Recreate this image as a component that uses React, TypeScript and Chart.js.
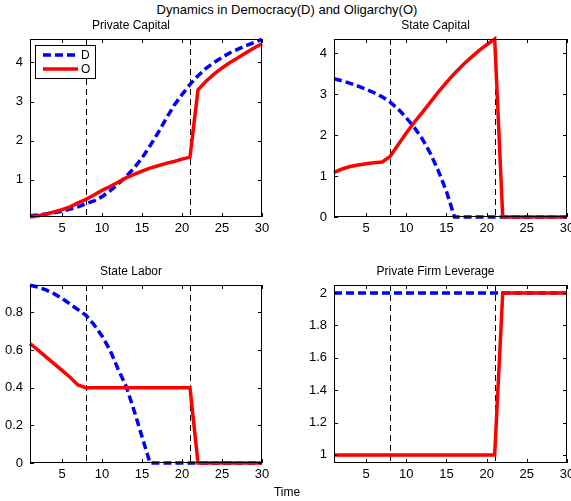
import React, { useEffect, useRef } from 'react';
import { Chart, registerables } from 'chart.js';

Chart.register(...registerables);

const FONT = '"Liberation Sans", Arial, Helvetica, sans-serif';
Chart.defaults.font.family = FONT;

// ---------- data ----------
const timeSteps = [1, 2, 3, 4, 5, 6, 7, 8, 9, 10, 11, 12, 13, 14, 15, 16, 17, 18, 19, 20, 21, 22, 23, 24, 25, 26, 27, 28, 29, 30];
const xTicks = [5, 10, 15, 20, 25, 30];
const regimeChanges = [8, 21];
const seriesLabels = ['D', 'O'];

const mainTitle = 'Dynamics in Democracy(D) and Oligarchy(O)';
const xAxisLabel = 'Time';

const privateCapitalD = [0.08, 0.10, 0.13, 0.16, 0.20, 0.25, 0.31, 0.39, 0.46, 0.57, 0.72, 0.89, 1.08, 1.30, 1.56, 1.87, 2.20, 2.56, 2.90, 3.18, 3.44, 3.66, 3.85, 4.00, 4.13, 4.25, 4.34, 4.43, 4.51, 4.59];
const privateCapitalO = [0.05, 0.08, 0.12, 0.18, 0.24, 0.31, 0.41, 0.50, 0.61, 0.73, 0.83, 0.94, 1.05, 1.14, 1.22, 1.30, 1.36, 1.42, 1.47, 1.53, 1.58, 3.30, 3.52, 3.70, 3.86, 4.00, 4.12, 4.25, 4.37, 4.48];

const stateCapitalD = [3.37, 3.32, 3.26, 3.19, 3.11, 3.03, 2.93, 2.80, 2.63, 2.42, 2.18, 1.90, 1.55, 1.12, 0.62, 0, 0, 0, 0, 0, 0, 0, 0, 0, 0, 0, 0, 0, 0, 0];
const stateCapitalO = [1.09, 1.17, 1.23, 1.27, 1.30, 1.32, 1.34, 1.48, 1.77, 2.05, 2.31, 2.55, 2.80, 3.05, 3.28, 3.50, 3.70, 3.88, 4.05, 4.20, 4.34, 0, 0, 0, 0, 0, 0, 0, 0, 0];

const stateLaborD = [0.945, 0.935, 0.92, 0.90, 0.875, 0.845, 0.815, 0.785, 0.735, 0.675, 0.60, 0.50, 0.41, 0.28, 0.14, 0, 0, 0, 0, 0, 0, 0, 0, 0, 0, 0, 0, 0, 0, 0];
const stateLaborO = [0.635, 0.60, 0.564, 0.528, 0.492, 0.456, 0.415, 0.40, 0.40, 0.40, 0.40, 0.40, 0.40, 0.40, 0.40, 0.40, 0.40, 0.40, 0.40, 0.40, 0.40, 0, 0, 0, 0, 0, 0, 0, 0, 0];

const leverageD = [2, 2, 2, 2, 2, 2, 2, 2, 2, 2, 2, 2, 2, 2, 2, 2, 2, 2, 2, 2, 2, 2, 2, 2, 2, 2, 2, 2, 2, 2];
const leverageO = [1, 1, 1, 1, 1, 1, 1, 1, 1, 1, 1, 1, 1, 1, 1, 1, 1, 1, 1, 1, 1, 2, 2, 2, 2, 2, 2, 2, 2, 2];

const privateCapitalTicks = [1, 2, 3, 4];
const stateCapitalTicks = [0, 1, 2, 3, 4];
const stateLaborTicks = [0, 0.2, 0.4, 0.6, 0.8];
const leverageTicks = [1, 1.2, 1.4, 1.6, 1.8, 2];

// ---------- plugins ----------
const axesBoxPlugin = {
  id: 'axesBox',
  beforeDatasetsDraw(chart: any) {
    const { ctx, chartArea, scales } = chart;
    const { top, bottom } = chartArea;
    ctx.save();
    ctx.strokeStyle = '#000';
    ctx.lineWidth = 1;
    ctx.setLineDash([6, 4]);
    regimeChanges.forEach((v) => {
      const px = Math.round(scales.x.getPixelForValue(v)) + 0.5;
      ctx.beginPath();
      ctx.moveTo(px, top);
      ctx.lineTo(px, bottom);
      ctx.stroke();
    });
    ctx.restore();
  },
  afterDatasetsDraw(chart: any) {
    const { ctx, chartArea, scales } = chart;
    const { left, right, top, bottom } = chartArea;
    const tl = 4;
    ctx.save();
    ctx.strokeStyle = '#000';
    ctx.lineWidth = 1;
    ctx.setLineDash([]);
    ctx.strokeRect(left + 0.5, top + 0.5, right - left - 1, bottom - top - 1);
    ctx.beginPath();
    scales.x.ticks.forEach((t: any) => {
      const px = Math.round(scales.x.getPixelForValue(t.value)) + 0.5;
      ctx.moveTo(px, bottom);
      ctx.lineTo(px, bottom - tl);
      ctx.moveTo(px, top);
      ctx.lineTo(px, top + tl);
    });
    scales.y.ticks.forEach((t: any) => {
      const py = Math.round(scales.y.getPixelForValue(t.value)) + 0.5;
      ctx.moveTo(left, py);
      ctx.lineTo(left + tl, py);
      ctx.moveTo(right, py);
      ctx.lineTo(right - tl, py);
    });
    ctx.stroke();
    ctx.restore();
  },
};

const insideLegendPlugin = {
  id: 'insideLegend',
  afterDraw(chart: any) {
    const { ctx, chartArea } = chart;
    const x0 = chartArea.left + 5;
    const y0 = chartArea.top + 6;
    const w = 61;
    const h = 34;
    ctx.save();
    ctx.fillStyle = '#fff';
    ctx.fillRect(x0, y0, w, h);
    ctx.strokeStyle = '#000';
    ctx.lineWidth = 1;
    ctx.setLineDash([]);
    ctx.strokeRect(x0 + 0.5, y0 + 0.5, w - 1, h - 1);
    chart.data.datasets.forEach((ds: any, i: number) => {
      const cy = y0 + 10 + i * 14;
      ctx.strokeStyle = ds.borderColor;
      ctx.lineWidth = ds.borderWidth;
      ctx.setLineDash(ds.borderDash || []);
      ctx.beginPath();
      ctx.moveTo(x0 + 8, cy);
      ctx.lineTo(x0 + 43, cy);
      ctx.stroke();
      ctx.setLineDash([]);
      ctx.fillStyle = '#000';
      ctx.font = `12px ${FONT}`;
      ctx.textBaseline = 'middle';
      ctx.textAlign = 'left';
      ctx.fillText(ds.label, x0 + 46, cy + 0.5);
    });
    ctx.restore();
  },
};

const formatTick = (v: number | string) => String(Number(Number(v).toFixed(2)));

// ---------- panel ----------
type PanelProps = {
  title: string;
  d: number[];
  o: number[];
  yTicks: number[];
  yMin: number;
  yMax: number;
  legend?: boolean;
  left: number;
  top: number;
  width: number;
  height: number;
  rightPad: number;
};

function Panel(p: PanelProps) {
  const ref = useRef<HTMLCanvasElement>(null);
  useEffect(() => {
    const chart = new Chart(ref.current as HTMLCanvasElement, {
      type: 'line',
      data: {
        datasets: [
          {
            label: seriesLabels[0],
            data: timeSteps.map((t, i) => ({ x: t, y: p.d[i] })),
            borderColor: '#0000ff',
            borderWidth: 3.5,
            borderDash: [8, 4],
            pointRadius: 0,
            tension: 0,
            fill: false,
            order: 1,
            clip: false as any,
          },
          {
            label: seriesLabels[1],
            data: timeSteps.map((t, i) => ({ x: t, y: p.o[i] })),
            borderColor: '#ff0000',
            borderWidth: 3.5,
            pointRadius: 0,
            tension: 0,
            fill: false,
            order: 0,
            clip: false as any,
          },
        ],
      },
      options: {
        animation: false,
        responsive: false,
        maintainAspectRatio: false,
        events: [],
        layout: { padding: { left: 0, top: 0, right: p.rightPad, bottom: 0 } },
        plugins: {
          legend: { display: false },
          tooltip: { enabled: false },
          title: {
            display: true,
            text: p.title,
            color: '#000',
            font: { size: 12, weight: 'normal', lineHeight: '14px' as any },
            padding: { top: 0, bottom: 6 },
          },
        },
        scales: {
          x: {
            type: 'linear',
            min: 1,
            max: 30,
            afterBuildTicks: (s: any) => {
              s.ticks = xTicks.map((v) => ({ value: v }));
            },
            afterFit: (s: any) => {
              s.height = 24;
              s.paddingLeft = 0;
              s.paddingRight = 0;
            },
            grid: { display: false, drawTicks: false },
            border: { display: false },
            ticks: { color: '#000', font: { size: 13 }, padding: 4, maxRotation: 0, autoSkip: false, callback: formatTick },
          },
          y: {
            type: 'linear',
            min: p.yMin,
            max: p.yMax,
            afterBuildTicks: (s: any) => {
              s.ticks = p.yTicks.map((v) => ({ value: v }));
            },
            afterFit: (s: any) => {
              s.width = 30;
              s.paddingTop = 0;
              s.paddingBottom = 0;
            },
            grid: { display: false, drawTicks: false },
            border: { display: false },
            ticks: { color: '#000', font: { size: 13 }, padding: 7, autoSkip: false, callback: formatTick },
          },
        },
      } as any,
      plugins: p.legend ? [axesBoxPlugin, insideLegendPlugin] : [axesBoxPlugin],
    });
    return () => chart.destroy();
  }, []);
  return (
    <canvas
      ref={ref}
      width={p.width}
      height={p.height}
      style={{ position: 'absolute', left: p.left, top: p.top, width: p.width, height: p.height }}
    />
  );
}

export default function App() {
  return (
    <div
      style={{
        position: 'absolute',
        left: 0,
        top: 0,
        width: 571,
        height: 501,
        background: '#fff',
        overflow: 'hidden',
        fontFamily: FONT,
      }}
    >
      <div
        style={{
          position: 'absolute',
          left: 0,
          top: 2,
          width: 574,
          textAlign: 'center',
          fontSize: 13,
          lineHeight: '15px',
          color: '#000',
          whiteSpace: 'nowrap',
        }}
      >
        {mainTitle}
      </div>
      <Panel title="Private Capital" d={privateCapitalD} o={privateCapitalO} yTicks={privateCapitalTicks} yMin={0.05} yMax={4.6} legend left={0} top={19} width={285} height={222} rightPad={23} />
      <Panel title="State Capital" d={stateCapitalD} o={stateCapitalO} yTicks={stateCapitalTicks} yMin={0} yMax={4.34} left={304} top={19} width={267} height={222} rightPad={4} />
      <Panel title="State Labor" d={stateLaborD} o={stateLaborO} yTicks={stateLaborTicks} yMin={0} yMax={0.946} left={0} top={265} width={285} height={222} rightPad={23} />
      <Panel title="Private Firm Leverage" d={leverageD} o={leverageO} yTicks={leverageTicks} yMin={0.95} yMax={2.05} left={304} top={265} width={267} height={222} rightPad={4} />
      <div
        style={{
          position: 'absolute',
          left: 0,
          top: 485,
          width: 574,
          textAlign: 'center',
          fontSize: 12,
          lineHeight: '15px',
          color: '#000',
        }}
      >
        {xAxisLabel}
      </div>
    </div>
  );
}
